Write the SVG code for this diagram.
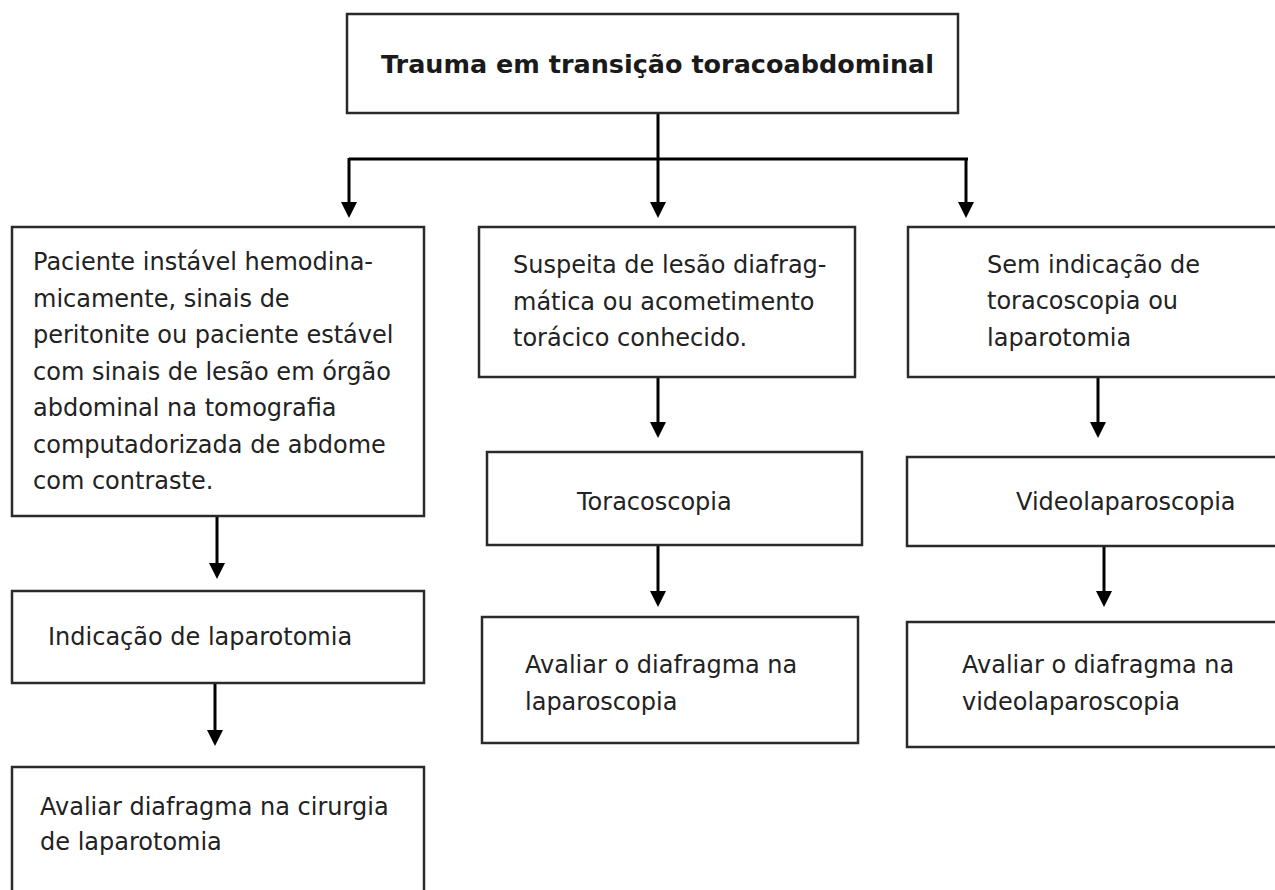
<svg xmlns="http://www.w3.org/2000/svg" width="1275" height="890" viewBox="0 0 1275 890">
  <defs>
    <marker id="ah" viewBox="0 0 16 16" refX="6" refY="8" markerWidth="16" markerHeight="16" markerUnits="userSpaceOnUse" orient="auto">
      <path d="M0,0 L16,8 L0,16 z" fill="#000"/>
    </marker>
    <style>
      .box { fill: #fff; stroke: #2a2a2a; stroke-width: 2.5; }
      .t { font-family: "DejaVu Sans", Verdana, sans-serif; font-size: 24px; fill: #222; }
      .title { font-family: "DejaVu Sans", Verdana, sans-serif; font-size: 24px; font-weight: bold; fill: #1a1a1a; }
      .c { fill: none; stroke: #000; stroke-width: 3; }
      .ca { fill: none; stroke: #000; stroke-width: 3; marker-end: url(#ah); }
    </style>
  </defs>
  <rect width="1275" height="890" fill="#fff"/>

  <g id="connectors">
    <path class="ca" d="M658,113 V208"/>
    <path class="c" d="M349,159 H968"/>
    <path class="ca" d="M349,158 V208"/>
    <path class="ca" d="M966,158 V208"/>
    <path class="ca" d="M658,377 V428"/>
    <path class="ca" d="M658,545 V597"/>
    <path class="ca" d="M1098,377 V428"/>
    <path class="ca" d="M1104,546 V597"/>
    <path class="ca" d="M217,516 V569"/>
    <path class="ca" d="M215,683 V736"/>
  </g>

  <g id="n-trauma">
    <rect class="box" x="347" y="14" width="611" height="99"/>
    <text class="title" x="381" y="73" textLength="553" lengthAdjust="spacingAndGlyphs">Trauma em transição toracoabdominal</text>
  </g>

  <g id="n-instavel">
    <rect class="box" x="12" y="227" width="412" height="289"/>
    <text class="t" x="33" y="270">Paciente instável hemodina-</text>
    <text class="t" x="33" y="306.5">micamente, sinais de</text>
    <text class="t" x="33" y="343">peritonite ou paciente estável</text>
    <text class="t" x="33" y="379.5">com sinais de lesão em órgão</text>
    <text class="t" x="33" y="416">abdominal na tomografia</text>
    <text class="t" x="33" y="452.5">computadorizada de abdome</text>
    <text class="t" x="33" y="489">com contraste.</text>
  </g>

  <g id="n-suspeita">
    <rect class="box" x="479" y="227" width="376" height="150"/>
    <text class="t" x="513" y="273">Suspeita de lesão diafrag-</text>
    <text class="t" x="513" y="310">mática ou acometimento</text>
    <text class="t" x="513" y="346">torácico conhecido.</text>
  </g>

  <g id="n-sem">
    <rect class="box" x="908" y="227" width="380" height="150"/>
    <text class="t" x="987" y="273">Sem indicação de</text>
    <text class="t" x="987" y="309">toracoscopia ou</text>
    <text class="t" x="987" y="346">laparotomia</text>
  </g>

  <g id="n-toracoscopia">
    <rect class="box" x="487" y="452" width="375" height="93"/>
    <text class="t" x="577" y="510">Toracoscopia</text>
  </g>

  <g id="n-video">
    <rect class="box" x="907" y="457" width="380" height="89"/>
    <text class="t" x="1016" y="510">Videolaparoscopia</text>
  </g>

  <g id="n-avaliar-lap">
    <rect class="box" x="482" y="617" width="376" height="126"/>
    <text class="t" x="525" y="673">Avaliar o diafragma na</text>
    <text class="t" x="525" y="710">laparoscopia</text>
  </g>

  <g id="n-avaliar-video">
    <rect class="box" x="907" y="622" width="380" height="125"/>
    <text class="t" x="962" y="673">Avaliar o diafragma na</text>
    <text class="t" x="962" y="710">videolaparoscopia</text>
  </g>

  <g id="n-indicacao">
    <rect class="box" x="12" y="591" width="412" height="92"/>
    <text class="t" x="48" y="645">Indicação de laparotomia</text>
  </g>

  <g id="n-avaliar-cir">
    <rect class="box" x="12" y="767" width="412" height="140"/>
    <text class="t" x="40" y="815">Avaliar diafragma na cirurgia</text>
    <text class="t" x="40" y="850">de laparotomia</text>
  </g>
</svg>
